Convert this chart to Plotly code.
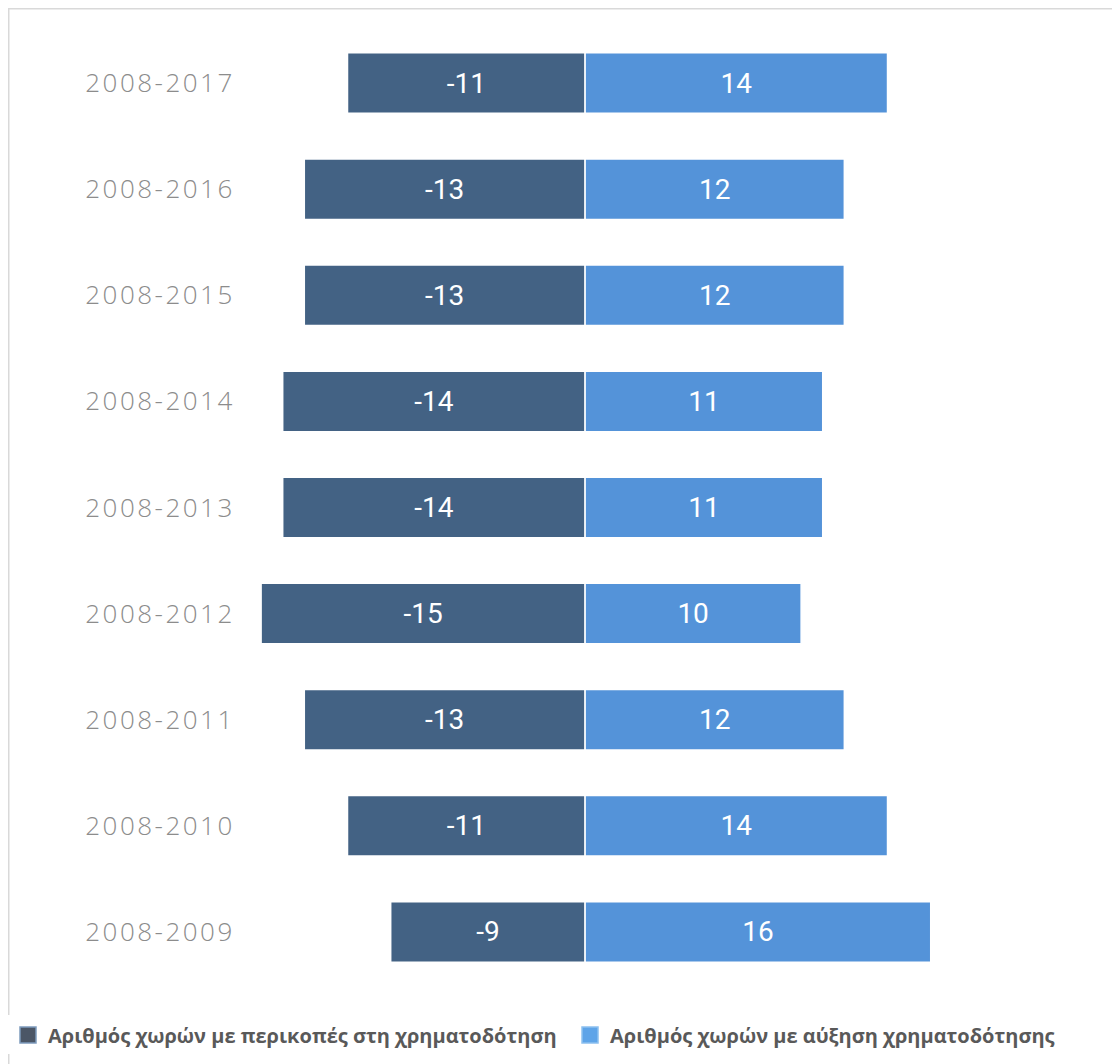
import plotly.graph_objects as go

periods = ["2008-2009", "2008-2010", "2008-2011", "2008-2012", "2008-2013",
           "2008-2014", "2008-2015", "2008-2016", "2008-2017"]
cuts = [-9, -11, -13, -15, -14, -14, -13, -13, -11]
increases = [16, 14, 12, 10, 11, 11, 12, 12, 14]

name_cuts = "Αριθμός χωρών με περικοπές στη χρηματοδότηση"
name_inc = "Αριθμός χωρών με αύξηση χρηματοδότησης"

DARK = "#436284"
LIGHT = "#5493d9"
bar_font = dict(family="Roboto, Open Sans, sans-serif", size=28, color="white")

fig = go.Figure()
fig.add_trace(go.Bar(
    y=periods, x=cuts, orientation="h", name=name_cuts, showlegend=False,
    marker=dict(color=DARK, line=dict(color="white", width=1.5)),
    text=[str(v) for v in cuts], textposition="inside", insidetextanchor="middle",
    textfont=bar_font, hoverinfo="skip",
))
fig.add_trace(go.Bar(
    y=periods, x=increases, orientation="h", name=name_inc, showlegend=False,
    marker=dict(color=LIGHT, line=dict(color="white", width=1.5)),
    text=[str(v) for v in increases], textposition="inside", insidetextanchor="middle",
    textfont=bar_font, hoverinfo="skip",
))
# legend entries (square swatches)
fig.add_trace(go.Scatter(
    x=[None], y=[None], mode="markers", name=name_cuts, legend="legend",
    marker=dict(symbol="square", size=16, color="#4b5666", line=dict(color="#7d9bbd", width=1.5)),
))
fig.add_trace(go.Scatter(
    x=[None], y=[None], mode="markers", name=name_inc, legend="legend2",
    marker=dict(symbol="square", size=16, color="#5ea4e8", line=dict(color="#8cc0f0", width=1.5)),
))

W, H = 1120, 1064
ml, mr, mt, mb = 241, 21, 22, 87
pw = W - ml - mr
ph = H - mt - mb

legend_font = dict(family="Open Sans, sans-serif", size=20, color="#595959", weight="bold")

fig.update_layout(
    width=W, height=H,
    barmode="relative", bargap=0.43,
    paper_bgcolor="white", plot_bgcolor="white",
    margin=dict(l=ml, r=mr, t=mt, b=mb),
    xaxis=dict(range=[-15.56, 24.16], visible=False, showgrid=False, zeroline=False),
    yaxis=dict(
        type="category", range=[-0.5, 8.5], showgrid=False, zeroline=False, showline=False,
        ticks="outside", ticklen=8, tickcolor="rgba(0,0,0,0)",
        tickfont=dict(family="Open Sans, sans-serif", size=26, color="#8c8c8c", weight=300),
    ),
    legend=dict(
        orientation="h", xref="container", yref="container",
        x=0, y=0.0348, xanchor="left", yanchor="middle",
        font=legend_font, itemsizing="trace",
    ),
    legend2=dict(
        orientation="h", xref="container", yref="container",
        x=0.5018, y=0.0348, xanchor="left", yanchor="middle",
        font=legend_font, itemsizing="trace",
    ),
    showlegend=True,
)

# light gray frame on left and top
x_left = -ml / pw
y_top = 1 + mt / ph
fig.add_shape(type="line", xref="paper", yref="paper",
              x0=x_left, x1=x_left, y0=y_top, y1=-0.2,
              line=dict(color="#d9d9d9", width=3))
fig.add_shape(type="line", xref="paper", yref="paper",
              x0=x_left, x1=1.2, y0=y_top, y1=y_top,
              line=dict(color="#d9d9d9", width=3))

post = """
function spaceTicks(){
  document.querySelectorAll('.ytick text').forEach(function(t){
    t.setAttribute('letter-spacing','2.5px');
  });
}
spaceTicks();
var gd = document.getElementById('{plot_id}');
if (gd && gd.on) { gd.on('plotly_afterplot', spaceTicks); }
"""

fig.write_html("out.html", post_script=post)
